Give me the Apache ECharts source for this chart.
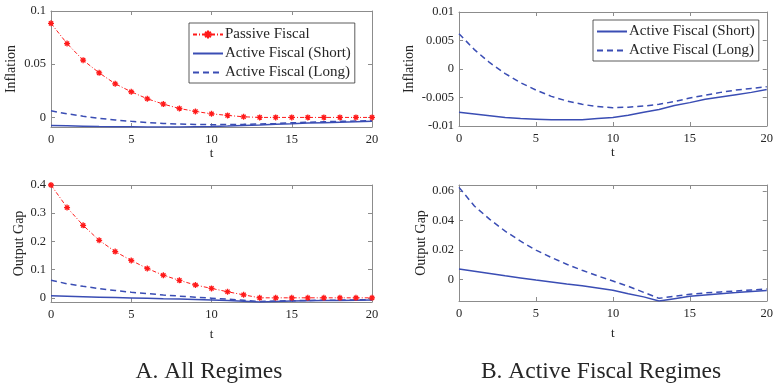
<!DOCTYPE html>
<html><head><meta charset="utf-8">
<script src="https://cdn.jsdelivr.net/npm/echarts@6/dist/echarts.min.js"></script>
<style>html,body{margin:0;padding:0;background:#fff}#c{width:776px;height:385px}</style>
</head><body><div id="c"></div>
<script>
const periods = [0,1,2,3,4,5,6,7,8,9,10,11,12,13,14,15,16,17,18,19,20];
const inflPassive = [0.0884,0.0694,0.0538,0.0419,0.0316,0.0241,0.0175,0.0125,0.0084,0.0056,0.0034,0.0019,0.0006,0,0,0,0,0,0,0,0];
const inflShort = [-0.0076,-0.0079,-0.0082,-0.0085,-0.0087,-0.0088,-0.0089,-0.0089,-0.0089,-0.0087,-0.0085,-0.0081,-0.0076,-0.0071,-0.0064,-0.0059,-0.0053,-0.0049,-0.0045,-0.0041,-0.0036];
const inflLong = [0.0062,0.0034,0.0011,-0.0008,-0.0024,-0.0037,-0.0048,-0.0056,-0.0062,-0.0066,-0.0068,-0.0067,-0.0065,-0.0062,-0.0057,-0.0051,-0.0046,-0.0041,-0.0037,-0.0034,-0.0031];
const gapPassive = [0.400,0.320,0.257,0.204,0.164,0.1325,0.104,0.080,0.062,0.0454,0.0334,0.0215,0.0107,0,0,0,0,0,0,0,0];
const gapShort = [0.0070,0.0055,0.0039,0.0023,0.0009,-0.0005,-0.0018,-0.0032,-0.0045,-0.0059,-0.0075,-0.0098,-0.0120,-0.0148,-0.0132,-0.0116,-0.0107,-0.0098,-0.0091,-0.0083,-0.0077];
const gapLong = [0.0625,0.0498,0.0407,0.0327,0.0259,0.0198,0.0148,0.0102,0.0061,0.0023,-0.0012,-0.0048,-0.0089,-0.0130,-0.0116,-0.0102,-0.0093,-0.0086,-0.0080,-0.0073,-0.0066];
const xTicks = [0,5,10,15,20];
const inflTicksA = [0,0.05,0.1];
const inflTicksB = [-0.01,-0.005,0,0.005,0.01];
const gapTicksA = [0,0.1,0.2,0.3,0.4];
const gapTicksB = [0,0.02,0.04,0.06];
const seriesNames = ['Passive Fiscal','Active Fiscal (Short)','Active Fiscal (Long)'];
const panelTitles = ['A. All Regimes','B. Active Fiscal Regimes'];

const FONT = 'Liberation Serif';
const BLUE = '#3a4db4';
const RED = '#ff1a1a';
const AXC = '#8c8c8c';
const TXT = '#262626';

const grids = [
  {left:51, top:11, width:321, height:116},
  {left:459, top:12, width:309, height:114},
  {left:51, top:185, width:321, height:117},
  {left:459, top:185, width:309, height:116}
];
const yCfg = [
  {min:-0.009, max:0.1, ticks:inflTicksA, name:'Inflation', gap:33},
  {min:-0.01, max:0.01, ticks:inflTicksB, name:'Inflation', gap:43},
  {min:-0.0148, max:0.4, ticks:gapTicksA, name:'Output Gap', gap:23},
  {min:-0.0148, max:0.0641, ticks:gapTicksB, name:'Output Gap', gap:31}
];
const xAxes = [], yAxes = [];
grids.forEach((g,i)=>{
  const base = {gridIndex:i, type:'value', min:0, max:20, interval:5,
    axisLine:{show:true, onZero:false, lineStyle:{color:AXC, width:1}},
    axisTick:{show:true, inside:true, length:4, customValues:xTicks, lineStyle:{color:AXC}},
    splitLine:{show:false}};
  xAxes.push(Object.assign({}, base, {position:'bottom',
    axisLabel:{color:TXT, fontFamily:FONT, fontSize:12.5, margin:6, customValues:xTicks},
    name:'t', nameLocation:'middle', nameGap: i<2 ? 20 : 26,
    nameTextStyle:{color:TXT, fontFamily:FONT, fontSize:13}}));
  xAxes.push(Object.assign({}, base, {position:'top', axisLabel:{show:false}}));
  const c = yCfg[i];
  const yb = {gridIndex:i, type:'value', min:c.min, max:c.max,
    axisLine:{show:true, onZero:false, lineStyle:{color:AXC, width:1}},
    splitLine:{show:false}};
  yAxes.push(Object.assign({}, yb, {position:'left',
    axisTick:{show:true, inside:true, length:4, customValues:c.ticks, lineStyle:{color:AXC}},
    axisLabel:{color:TXT, fontFamily:FONT, fontSize:12.5, margin:5, customValues:c.ticks},
    name:c.name, nameLocation:'middle', nameGap:c.gap, nameRotate:90,
    nameTextStyle:{color:TXT, fontFamily:FONT, fontSize:14}}));
  yAxes.push(Object.assign({}, yb, {position:'right',
    axisTick:{show:true, inside:true, length:4, customValues:c.ticks, lineStyle:{color:AXC}},
    axisLabel:{show:false, customValues:c.ticks}}));
});

const star = 'path://M0,-10 L0,10 M-10,0 L10,0 M-7,-7 L7,7 M-7,7 L7,-7';
function pairs(arr){ return periods.map((t,k)=>[t, arr[k]]); }
function passive(gi, arr){
  return {name:seriesNames[0], type:'line', xAxisIndex:gi*2, yAxisIndex:gi*2, data:pairs(arr),
    symbol:star, symbolSize:6, showSymbol:true,
    itemStyle:{color:RED, borderColor:RED, borderWidth:1.3},
    lineStyle:{color:RED, width:1, type:[4,2,1,2]}, z:3, silent:true};
}
function shortS(gi, arr){
  return {name:seriesNames[1], type:'line', xAxisIndex:gi*2, yAxisIndex:gi*2, data:pairs(arr),
    symbol:'none', itemStyle:{color:BLUE}, lineStyle:{color:BLUE, width:1.5, type:'solid'}};
}
function longS(gi, arr){
  return {name:seriesNames[2], type:'line', xAxisIndex:gi*2, yAxisIndex:gi*2, data:pairs(arr),
    symbol:'none', itemStyle:{color:BLUE}, lineStyle:{color:BLUE, width:1.5, type:[6,4]}};
}
const series = [
  shortS(0, inflShort), longS(0, inflLong), passive(0, inflPassive),
  shortS(1, inflShort), longS(1, inflLong),
  shortS(2, gapShort), longS(2, gapLong), passive(2, gapPassive),
  shortS(3, gapShort), longS(3, gapLong)
];

const hide = {color:'rgba(0,0,0,0)', borderColor:'rgba(0,0,0,0)', borderWidth:0};
function legItem(n){ return n === seriesNames[0] ? {name:n} : {name:n, itemStyle:hide}; }
const legBase = {orient:'vertical', itemWidth:30, itemHeight:10, itemGap:4,
  backgroundColor:'#fff', borderColor:'#333', borderWidth:0.8, borderRadius:0,
  padding:[4,4,3,3], selectedMode:false,
  textStyle:{color:TXT, fontFamily:FONT, fontSize:15, padding:[0,0,0,-3]}};
const legends = [
  Object.assign({}, legBase, {left:189, top:23, data:seriesNames.map(legItem)}),
  Object.assign({}, legBase, {left:593, top:20, data:seriesNames.slice(1).map(legItem)})
];

const chart = echarts.init(document.getElementById('c'), null, {renderer:'canvas'});
chart.setOption({
  animation:false,
  backgroundColor:'#fff',
  grid: grids,
  xAxis: xAxes,
  yAxis: yAxes,
  legend: legends,
  series: series,
  graphic: [
    {type:'text', x:209, y:372, style:{text:panelTitles[0], fontFamily:FONT, fontSize:23.5, fill:TXT, align:'center', verticalAlign:'middle'}},
    {type:'text', x:601, y:372, style:{text:panelTitles[1], fontFamily:FONT, fontSize:23.5, fill:TXT, align:'center', verticalAlign:'middle'}}
  ]
});
</script></body></html>
